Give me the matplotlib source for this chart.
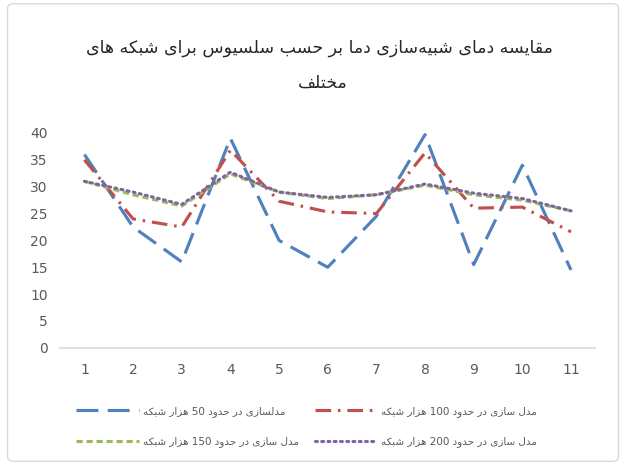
import re
import matplotlib
matplotlib.use("Agg")
import matplotlib.pyplot as plt
from matplotlib.patches import FancyBboxPatch

# categories and series
categories = [1, 2, 3, 4, 5, 6, 7, 8, 9, 10, 11]
grid_50k = [36, 22.5, 16, 39, 20, 15, 24.5, 39.7, 15.5, 34, 14.5]
grid_100k = [35, 24, 22.5, 36.8, 27.3, 25.3, 25, 36.3, 26, 26.2, 21.6]
grid_150k = [31, 28.5, 26.4, 32.4, 29, 27.8, 28.5, 30.3, 28.5, 27.5, 25.5]
grid_200k = [31, 29, 26.7, 32.7, 29, 28, 28.5, 30.5, 28.8, 27.8, 25.5]

title_lines = ["مقایسه دمای شبیه\u200cسازی دما بر حسب سلسیوس برای شبکه های", "مختلف"]
labels = [
    "مدلسازی در حدود 50 هزار شبکه",
    "مدل سازی در حدود 100 هزار شبکه",
    "مدل سازی در حدود 150 هزار شبکه",
    "مدل سازی در حدود 200 هزار شبکه",
]
yticks = [0, 5, 10, 15, 20, 25, 30, 35, 40]

# matplotlib has no arabic shaping, so pick presentation forms by hand
# (isolated, final, initial, medial); None = letter does not join to the next one
FORMS = {
    'ا': ('\uFE8D', '\uFE8E', None, None),
    'ب': ('\uFE8F', '\uFE90', '\uFE91', '\uFE92'),
    'ت': ('\uFE95', '\uFE96', '\uFE97', '\uFE98'),
    'ح': ('\uFEA1', '\uFEA2', '\uFEA3', '\uFEA4'),
    'خ': ('\uFEA5', '\uFEA6', '\uFEA7', '\uFEA8'),
    'د': ('\uFEA9', '\uFEAA', None, None),
    'ر': ('\uFEAD', '\uFEAE', None, None),
    'ز': ('\uFEAF', '\uFEB0', None, None),
    'س': ('\uFEB1', '\uFEB2', '\uFEB3', '\uFEB4'),
    'ش': ('\uFEB5', '\uFEB6', '\uFEB7', '\uFEB8'),
    'ف': ('\uFED1', '\uFED2', '\uFED3', '\uFED4'),
    'ق': ('\uFED5', '\uFED6', '\uFED7', '\uFED8'),
    'ل': ('\uFEDD', '\uFEDE', '\uFEDF', '\uFEE0'),
    'م': ('\uFEE1', '\uFEE2', '\uFEE3', '\uFEE4'),
    'ن': ('\uFEE5', '\uFEE6', '\uFEE7', '\uFEE8'),
    'ه': ('\uFEE9', '\uFEEA', '\uFEEB', '\uFEEC'),
    'و': ('\uFEED', '\uFEEE', None, None),
    'ی': ('\uFBFC', '\uFBFD', '\uFBFE', '\uFBFF'),
    'ک': ('\uFB8E', '\uFB8F', '\uFB90', '\uFB91'),
}


def fa(text):
    out = []
    for i, c in enumerate(text):
        if c == '\u200c':
            continue
        if c not in FORMS:
            out.append(c)
            continue
        prev = text[i - 1] if i > 0 else ''
        nxt = text[i + 1] if i + 1 < len(text) else ''
        jp = prev in FORMS and FORMS[prev][2] is not None
        jn = nxt in FORMS and FORMS[c][2] is not None
        iso, fin, ini, med = FORMS[c]
        if jp and jn:
            out.append(med)
        elif jp:
            out.append(fin)
        elif jn:
            out.append(ini)
        else:
            out.append(iso)
    vis = ''.join(out)[::-1]
    return re.sub(r'\d+', lambda m: m.group()[::-1], vis)


plt.rcParams['font.family'] = ['DejaVu Sans']
grey = '#595959'

fig = plt.figure(figsize=(6.26, 4.65), dpi=100)
fig.patches.append(FancyBboxPatch((0.012, 0.008), 0.976, 0.984, boxstyle="round,pad=0,rounding_size=0.01",
                                  transform=fig.transFigure, fill=False, edgecolor='#D9D9D9', lw=1))
ax = fig.add_axes([0.096, 0.252, 0.855, 0.462])

ax.plot(categories, grid_50k, color='#4F81BD', lw=2.25, dashes=(7, 3), label=fa(labels[0]))
ax.plot(categories, grid_100k, color='#C0504D', lw=2.25, dashes=(5, 2.2, 0.8, 2.2), label=fa(labels[1]))
ax.plot(categories, grid_150k, color='#9BBB59', lw=2.25, dashes=(2, 1.2), label=fa(labels[2]))
ax.plot(categories, grid_200k, color='#8064A2', lw=2.25, dashes=(0.6, 1.4), dash_capstyle='round',
        label=fa(labels[3]))

ax.set_xlim(0.5, 11.5)
ax.set_ylim(0, 40)
ax.set_xticks(categories)
ax.set_yticks(yticks)
ax.tick_params(length=0, labelsize=10, labelcolor=grey)
ax.tick_params(axis='x', pad=11)
ax.tick_params(axis='y', pad=9)
for s in ['top', 'right', 'left']:
    ax.spines[s].set_visible(False)
ax.spines['bottom'].set_color('#D9D9D9')
ax.spines['bottom'].set_linewidth(1.2)

fig.text(0.511, 0.897, fa(title_lines[0]), ha='center', va='center', fontsize=12.5, color='#262626')
fig.text(0.515, 0.822, fa(title_lines[1]), ha='center', va='center', fontsize=12.5, color='#262626')

h, l = ax.get_legend_handles_labels()
order = [0, 2, 1, 3]
fig.legend([h[i] for i in order], [l[i] for i in order], ncol=2, loc='center',
           bbox_to_anchor=(0.49, 0.083), frameon=False, fontsize=7.5, labelcolor=grey,
           handlelength=6, handletextpad=0.4, columnspacing=1.5, labelspacing=1.9)

fig.savefig('out.png', dpi=100)
